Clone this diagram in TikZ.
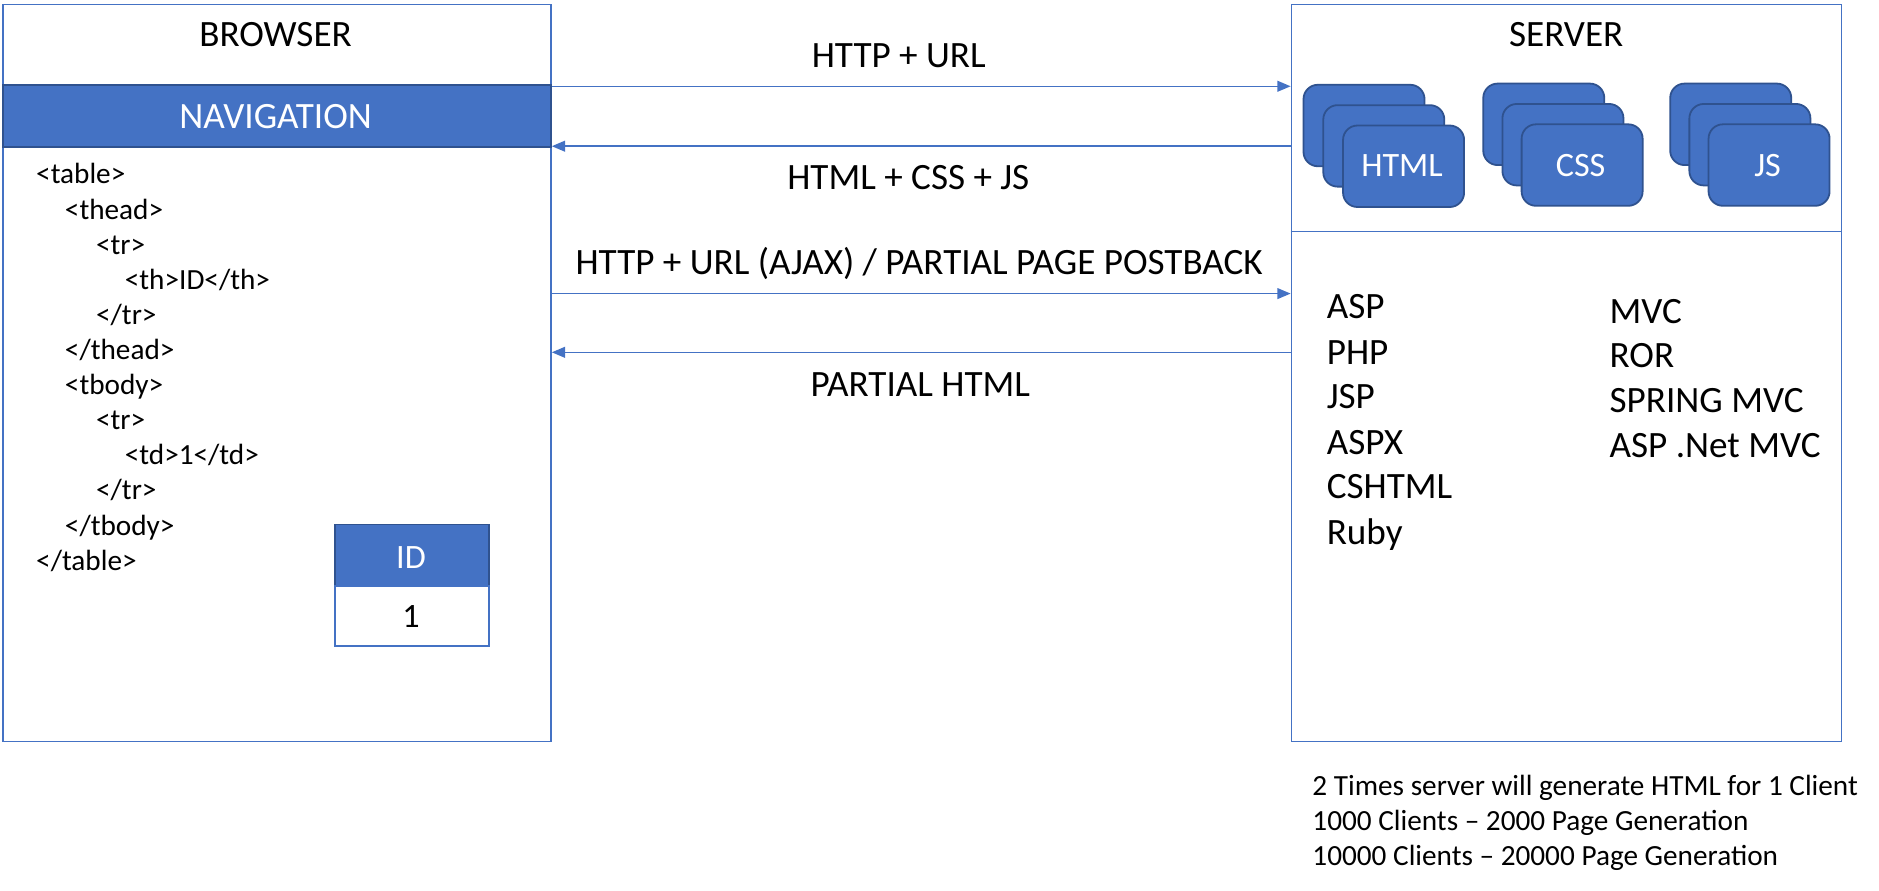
\documentclass[tikz,border=0pt]{standalone}
\usepackage{fontspec}
\setmainfont{Carlito}
\usetikzlibrary{arrows.meta}
\definecolor{blu}{HTML}{4472C4}
\definecolor{dblu}{HTML}{2F528F}
\tikzset{
  box/.style={draw=blu, line width=1.5pt, fill=white, inner sep=0pt, anchor=north west},
  big/.style={font=\fontsize{31}{37}\selectfont, inner sep=0pt, anchor=base},
  bigw/.style={font=\fontsize{31}{37}\selectfont, inner sep=0pt, anchor=base west},
  code/.style={font=\fontsize{24.4}{29}\selectfont, inner sep=0pt, anchor=base west},
  card/.style={draw=dblu, line width=1.5pt, fill=blu, rounded corners=12pt, minimum width=101pt, minimum height=68pt, inner sep=0pt, anchor=north west},
  cardtxt/.style={font=\fontsize{28.5}{33}\selectfont, text=white, inner sep=0pt, anchor=base},
  arr/.style={draw=blu, line width=1.2pt, -{Triangle[length=11pt, width=9pt]}},
}
\begin{document}
\begin{tikzpicture}[x=1pt, y=-1pt]
\useasboundingbox (0,0) rectangle (1568,743);
% Browser
\node[box, minimum width=457pt, minimum height=615pt] (browser) at (2,3) {};
\node[big] (browserlbl) at (230,39) {BROWSER};
\node[box, draw=dblu, fill=blu, minimum width=457pt, minimum height=52pt] (nav) at (2,70) {};
\node[big, text=white] (navlbl) at (230,107) {NAVIGATION};
\node[code] (c1) at (30,153.5) {<table>};
\node[code] (c2) at (54,182.8) {<thead>};
\node[code] (c3) at (80,212.1) {<tr>};
\node[code] (c4) at (104,241.4) {<th>ID</th>};
\node[code] (c5) at (80,270.7) {</tr>};
\node[code] (c6) at (54,300) {</thead>};
\node[code] (c7) at (54,329.3) {<tbody>};
\node[code] (c8) at (80,358.6) {<tr>};
\node[code] (c9) at (104,387.9) {<td>1</td>};
\node[code] (c10) at (80,417.2) {</tr>};
\node[code] (c11) at (54,446.5) {</tbody>};
\node[code] (c12) at (30,475.8) {</table>};
% table widget
\node[box, draw=dblu, fill=blu, minimum width=128pt, minimum height=51pt] (th) at (279,437) {};
\node[cardtxt] (thlbl) at (343,474) {ID};
\node[box, minimum width=128pt, minimum height=50pt] (td) at (279,488) {};
\node[cardtxt, text=black] (tdlbl) at (343,524) {1};
% Server
\node[box, minimum width=459pt, minimum height=615pt] (server) at (1077,3) {};
\node[big] (serverlbl) at (1307,39) {SERVER};
\draw[blu, line width=1.2pt] (server.west |- 0,193) coordinate (dl) -- (server.east |- 0,193) coordinate (dr);
% cards
\node[card] (h1) at (1087,70) {};
\node[card] (h2) at (1103.5,87) {};
\node[card] (h3) at (1120,104) {};
\node[cardtxt] (hl) at (1170,147) {HTML};
\node[card] (s1) at (1237,69) {};
\node[card] (s2) at (1253,86) {};
\node[card] (s3) at (1269,103) {};
\node[cardtxt] (sl) at (1319,147) {CSS};
\node[card] (j1) at (1393,69) {};
\node[card] (j2) at (1409,86) {};
\node[card] (j3) at (1425,103) {};
\node[cardtxt] (jl) at (1475,147) {JS};
% server lists
\node[bigw] (l1) at (1107,266) {ASP};
\node[bigw] (l2) at (1107,304) {PHP};
\node[bigw] (l3) at (1107,341) {JSP};
\node[bigw] (l4) at (1107,379) {ASPX};
\node[bigw] (l5) at (1107,416) {CSHTML};
\node[bigw] (l6) at (1107,454) {Ruby};
\node[bigw] (r1) at (1343,270) {MVC};
\node[bigw] (r2) at (1343,307) {ROR};
\node[bigw] (r3) at (1343,344) {SPRING MVC};
\node[bigw] (r4) at (1343,382) {ASP .Net MVC};
% arrows
\draw[arr] (browser.east |- 0,72) -- (server.west |- 0,72);
\node[big] (a1) at (750,56) {HTTP + URL};
\draw[arr] (server.west |- 0,122) -- (browser.east |- 0,122);
\node[big] (a2) at (758,158) {HTML + CSS + JS};
\draw[arr] (browser.east |- 0,245) -- (server.west |- 0,245);
\node[big] (a3) at (767,229) {HTTP + URL (AJAX) / PARTIAL PAGE POSTBACK};
\draw[arr] (server.west |- 0,294) -- (browser.east |- 0,294);
\node[big] (a4) at (768,331) {PARTIAL HTML};
% note
\node[code] (n1) at (1095,664) {2 Times server will generate HTML for 1 Client};
\node[code] (n2) at (1095,693) {1000 Clients – 2000 Page Generation};
\node[code] (n3) at (1095,722) {10000 Clients – 20000 Page Generation};
\end{tikzpicture}
\end{document}
